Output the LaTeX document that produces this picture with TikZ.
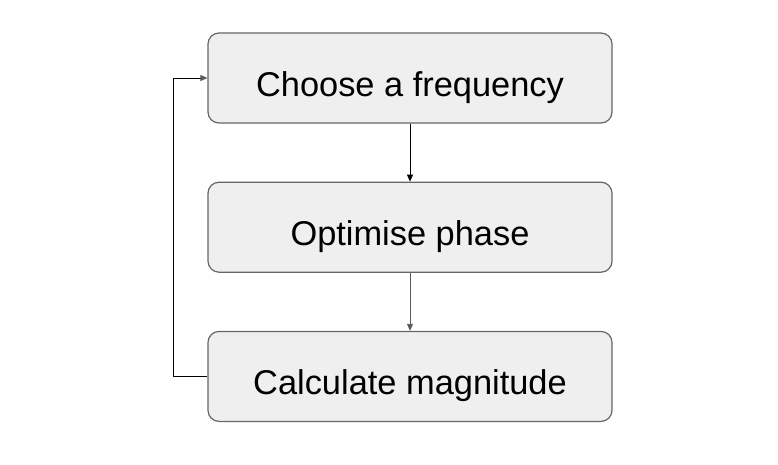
\documentclass[tikz,border=0pt]{standalone}
\usepackage{fontspec}
\setmainfont{Liberation Sans}
\usetikzlibrary{positioning,arrows.meta}
\definecolor{boxfill}{HTML}{EFEFEF}
\definecolor{boxline}{HTML}{666666}
\definecolor{arrowgray}{HTML}{595959}
\begin{document}
\begin{tikzpicture}[node distance=58pt,
square/.style={
% The shape:
rectangle,
rounded corners=11pt,
draw=boxline,
line width=1.2pt,
fill=boxfill,
minimum width=404pt,
minimum height=90pt,
text height=36pt,
text depth=0pt,
font=\fontsize{34.4}{40}\selectfont,
text centered
},
flow/.style={-{Triangle[length=7pt,width=6pt]},line width=0.9pt},
back loop/.style={to path={-- ++(#1,0) |- (\tikztotarget)}}
]
\useasboundingbox (0pt,0pt) rectangle (778pt,-464pt);
\node (choose) [square] at (410pt,-78pt) {Choose a frequency};
\node (phase) [square,below=of choose] {Optimise phase};
\node (magnitude) [square,below=of phase] {Calculate magnitude};

\draw [flow,black] (choose) -- (phase);
\draw [flow,arrowgray] (phase) -- (magnitude);
\path (magnitude.west) edge[flow,-{Triangle[length=7pt,width=6pt,color=arrowgray]},back loop=-34pt] (choose.west);
\end{tikzpicture}
\end{document}
